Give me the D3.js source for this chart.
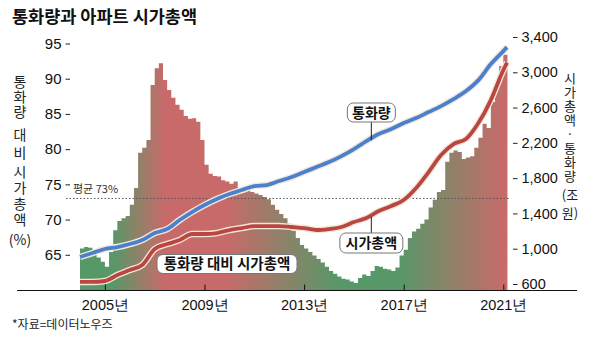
<!DOCTYPE html>
<html><head><meta charset="utf-8">
<script src="https://cdn.jsdelivr.net/npm/d3@7"></script>
<style>
body{margin:0;background:#fff;}
svg{display:block;}
.num{font-family:"Liberation Sans Narrow","Arial Narrow","Liberation Sans",sans-serif;}
.kr{font-family:"Noto Sans CJK KR","Noto Sans",sans-serif;}
.vert{writing-mode:vertical-rl;text-orientation:upright;}
</style></head>
<body>
<svg id="chart" width="600" height="341"></svg>
<script>
// ---- data ----
const ratioStart = 2004;           // first bar: Jan 2004, bi-monthly steps
const ratioStep = 2 / 12;
const ratioValues = [
  65.9,66.1,66.0,65.1,64.6,64.0,63.3,65.4,68.5,69.8,70.2,70.5,72.1,74.5,79.5,80.2,81.3,89.1,91.5,92.2,
  89.8,88.4,87.3,86.3,85.6,84.7,84.3,84.4,83.9,81.3,77.8,76.5,76.2,76.1,75.6,75.4,75.1,75.4,74.5,74.4,
  74.2,73.9,73.7,73.5,73.2,72.9,72.1,71.4,70.8,70.2,69.4,68.4,67.4,66.4,65.9,65.4,64.9,64.4,63.9,63.3,
  62.7,62.3,61.9,61.6,61.5,61.2,61.0,61.7,62.2,62.0,62.7,63.4,63.3,63.0,62.9,62.7,63.2,64.9,65.7,67.4,
  68.3,68.7,69.4,70.0,71.7,72.8,73.9,74.2,78.2,79.5,79.8,79.6,78.6,78.8,79.0,80.2,81.6,83.6,83.0,86.7,
  89.5,91.8,93.4
];
const lineYears = [2004,2004.5,2005,2005.5,2006,2006.5,2007,2007.5,2008,2008.5,2009,2009.5,2010,2010.5,
  2011,2011.5,2012,2012.5,2013,2013.5,2014,2014.5,2015,2015.5,2016,2016.5,2017,2017.5,2018,2018.5,
  2019,2019.5,2020,2020.5,2021,2021.15];
const moneySupply = [906,951,997,1019,1053,1099,1178,1223,1325,1416,1495,1563,1620,1665,
  1710,1722,1767,1812,1869,1926,1982,2050,2130,2220,2300,2356,2424,2481,2549,2617,
  2696,2787,2911,3093,3240,3285];
const marketCap = [623,623,634,702,759,815,997,1053,1099,1167,1167,1178,1212,1234,
  1257,1257,1257,1246,1234,1212,1223,1246,1302,1348,1427,1484,1552,1688,1869,2062,
  2186,2243,2424,2685,3025,3110];
const leftTicks = [65,70,75,80,85,90,95];
const rightTicks = [600,1000,1400,1800,2200,2600,3000,3400];
const yearTicks = [2005,2009,2013,2017,2021];
const averageRatio = 73;
const title = "통화량과 아파트 시가총액";
const leftTitle = ["통화량","대비","시가총액","(%)"];
const rightTitle = ["시가총액·통화량","(조","원)"];
const source = "*자료=데이터노우즈";

// ---- scales ----
const svg = d3.select("#chart");
const x = d3.scaleLinear().domain([2004, 2021]).range([80, 503.3]);
const yL = d3.scaleLinear().domain([60, 95]).range([290, 43.5]);
const yR = d3.scaleLinear().domain([600, 3400]).range([284, 37]);

// gradient for area
const defs = svg.append("defs");
const green = "#579868", red = "#c96a6a";
const grad = defs.append("linearGradient").attr("id","areaGrad")
  .attr("gradientUnits","userSpaceOnUse")
  .attr("x1", x(2004)).attr("x2", x(2021.17)).attr("y1",0).attr("y2",0);
const stopYears = [[2004,green],[2005.3,green],[2007.4,red],[2009.8,red],[2014.4,green],[2016.8,green],[2021.1,red]];
const span = 17.17;
stopYears.forEach(([yr,c]) => grad.append("stop").attr("offset", (yr-2004)/span).attr("stop-color", c));

// area (step)
const ratioData = ratioValues.map((v,i)=>({t: ratioStart + i*ratioStep, v}));
ratioData.push({t: ratioStart + ratioValues.length*ratioStep, v: ratioValues[ratioValues.length-1]});
const area = d3.area().curve(d3.curveStepAfter)
  .x(d=>x(d.t)).y0(yL(60)).y1(d=>yL(d.v));
svg.append("path").datum(ratioData).attr("d", area).attr("fill","url(#areaGrad)");

// average dotted line
svg.append("line").attr("x1",66).attr("x2",x(2021.17)+3)
  .attr("y1",yL(averageRatio)).attr("y2",yL(averageRatio))
  .attr("stroke","#555").attr("stroke-width",1).attr("stroke-dasharray","1.5,2");
svg.append("text").attr("class","kr").attr("x",73).attr("y",yL(averageRatio)-5)
  .attr("font-size",11).attr("fill","#333").text("평균 "+averageRatio+"%");

// lines
const line = d3.line().curve(d3.curveMonotoneX).x(d=>x(d[0])).y(d=>yR(d[1]));
const blue = lineYears.map((t,i)=>[t, moneySupply[i]]);
const redL = lineYears.map((t,i)=>[t, marketCap[i]]);
[[redL,"#b9463f"],[blue,"#4a80cc"]].forEach(([d,c])=>{
  svg.append("path").datum(d).attr("d",line).attr("fill","none")
    .attr("stroke","#f3e7dc").attr("stroke-width",6.5).attr("stroke-linejoin","round");
  svg.append("path").datum(d).attr("d",line).attr("fill","none")
    .attr("stroke",c).attr("stroke-width",3.8).attr("stroke-linejoin","round");
});

// baseline
svg.append("line").attr("x1",17).attr("x2",577).attr("y1",290.5).attr("y2",290.5)
  .attr("stroke","#111").attr("stroke-width",1.2);

// x axis
const xa = svg.append("g").attr("transform","translate(0,290.5)")
  .call(d3.axisBottom(x).tickValues(yearTicks).tickSizeInner(-6).tickSizeOuter(0).tickPadding(9).tickFormat(d=>d+"년"));
xa.select(".domain").remove();
xa.selectAll("line").attr("stroke","#111");
xa.selectAll("text").attr("class","num").attr("font-size",14.5).attr("fill","#111");

// left axis
const la = svg.append("g").attr("transform","translate(70,0)")
  .call(d3.axisLeft(yL).tickValues(leftTicks).tickSize(4.5).tickPadding(4));
la.select(".domain").remove();
la.selectAll("line").attr("stroke","#222");
la.selectAll("text").attr("class","num").attr("font-size",15).attr("fill","#111");

// right axis
const ra = svg.append("g").attr("transform","translate(513,0)")
  .call(d3.axisRight(yR).tickValues(rightTicks).tickSize(4.5).tickPadding(4).tickFormat(d3.format(",")));
ra.select(".domain").remove();
ra.selectAll("line").attr("stroke","#222");
ra.selectAll("text").attr("class","num").attr("font-size",14.5).attr("fill","#111");

// title
svg.append("text").attr("class","kr").attr("x",12).attr("y",23).attr("font-size",17.5)
  .attr("font-weight","bold").attr("fill","#111").text(title);

// vertical axis titles
function vtext(txt, cx, top, fs, ls){
  svg.append("text").attr("class","kr vert").attr("x",cx).attr("y",top)
    .attr("font-size",fs).attr("letter-spacing",ls).attr("fill","#222").text(txt);
}
function htext(txt, cx, cy, fs){
  svg.append("text").attr("class","kr").attr("x",cx).attr("y",cy).attr("dy","0.35em")
    .attr("text-anchor","middle").attr("font-size",fs).attr("fill","#222").text(txt);
}
vtext(leftTitle[0], 20, 75, 14, 1);
vtext(leftTitle[1], 20, 128, 14, 4);
vtext(leftTitle[2], 20, 165, 14, 2);
htext(leftTitle[3], 20, 240, 14);
vtext(rightTitle[0], 570, 71.5, 13, 1);
htext(rightTitle[1], 570, 195, 13);
htext(rightTitle[2], 570, 213, 13);

// labels with boxes
function label(txt, cx, cy, w, h, fs){
  svg.append("rect").attr("x",cx-w/2).attr("y",cy-h/2).attr("width",w).attr("height",h)
    .attr("rx",6).attr("fill","#fff").attr("stroke","#777").attr("stroke-width",1);
  svg.append("text").attr("class","kr").attr("x",cx).attr("y",cy).attr("dy","0.36em")
    .attr("text-anchor","middle").attr("font-size",fs).attr("font-weight","bold").attr("fill","#111").text(txt);
}
// connectors
const cx1 = x(2015.7);
svg.append("line").attr("x1",cx1).attr("x2",cx1).attr("y1",122).attr("y2",yR(2230)).attr("stroke","#222");
svg.append("line").attr("x1",cx1).attr("x2",cx1).attr("y1",yR(1360)).attr("y2",233).attr("stroke","#222");
label("통화량", cx1, 112.5, 48, 19, 14);
label("시가총액", cx1, 243, 63, 20, 14);
label("통화량 대비 시가총액", 227, 264, 140, 19, 14.5);

// source
svg.append("text").attr("class","kr").attr("x",12).attr("y",329).attr("font-size",12)
  .attr("fill","#222").text(source);
</script>
</body></html>
